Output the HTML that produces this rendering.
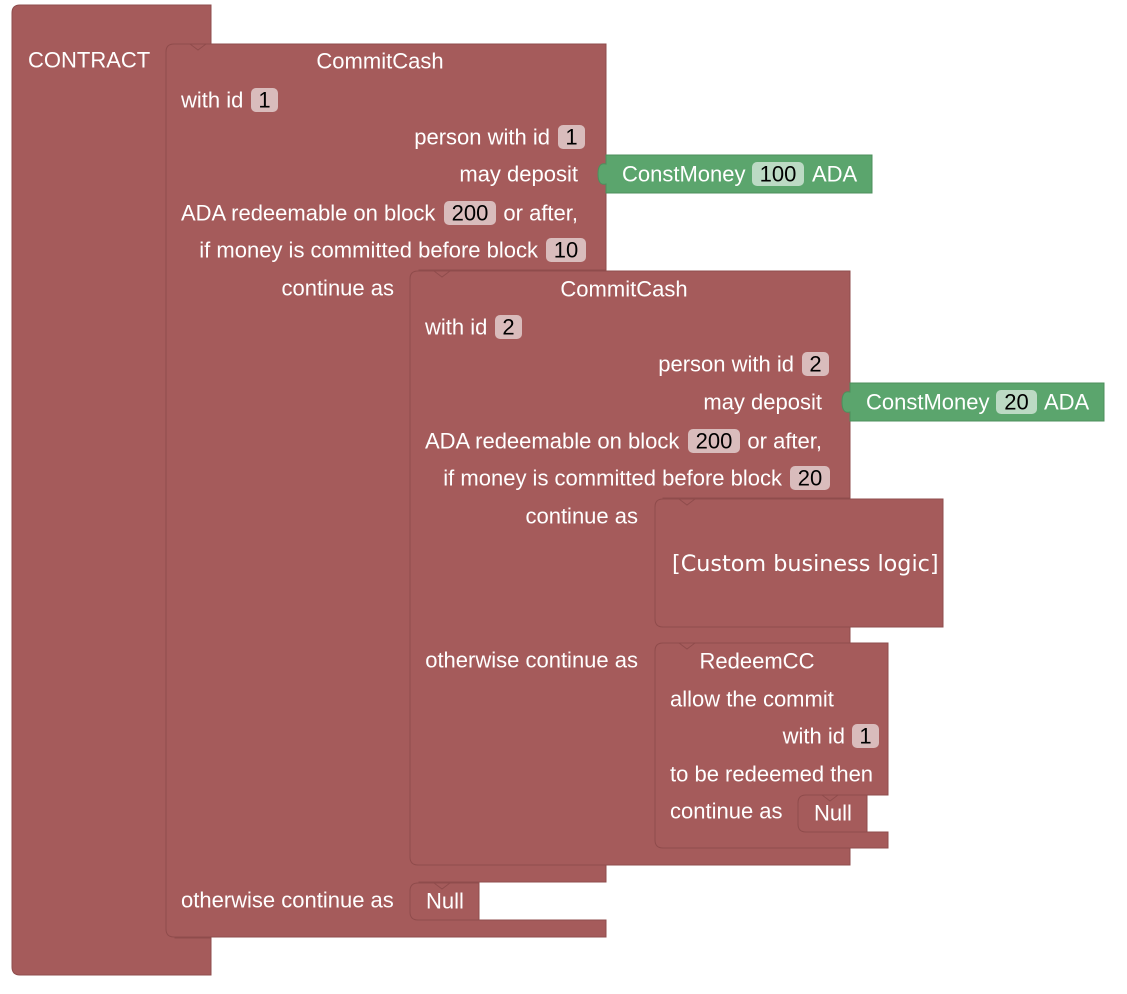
<!DOCTYPE html>
<html><head><meta charset="utf-8"><style>
html,body{margin:0;padding:0;background:#fff;width:1127px;height:994px;overflow:hidden}
svg{display:block}
text{font-family:"Liberation Sans",Arial,sans-serif;font-size:22px;fill:#fff;dominant-baseline:central}
.f{fill:#d9bcbc}
.g{fill:#bcdac4}
.k{fill:#000}
.b{fill:#a55b5b;stroke:#8f4c4c;stroke-width:1}
.gr{fill:#5ba56d;stroke:#4c8f5c;stroke-width:1}
.n{fill:none;stroke:#8f4c4c;stroke-width:1}
</style></head><body>
<svg width="1127" height="994" viewBox="0 0 1127 994">
<path class="b" d="M20,5 H211 V44 H175 V938 H211 V975 H20 Q12,975 12,967 V13 Q12,5 20,5 Z"/>
<path class="b" d="M174,44 H606 V270 H419 V862 H606 V882 H419 V920 H606 V937 H174 Q166,937 166,929 V52 Q166,44 174,44 Z"/>
<path class="n" d="M190,44 L198,50 L206,44"/>
<path class="b" d="M418,271 H850 V498 H663 V627 H850 V643 H663 V848 H850 V865 H418 Q410,865 410,857 V279 Q410,271 418,271 Z"/>
<path class="n" d="M434,271 L442,277 L450,271"/>
<path class="b" d="M663,499 H943 V627 H663 Q655,627 655,619 V507 Q655,499 663,499 Z"/>
<path class="n" d="M679,499 L687,505 L695,499"/>
<path class="b" d="M663,643 H888 V795 H806 V832 H888 V848 H663 Q655,848 655,840 V651 Q655,643 663,643 Z"/>
<path class="n" d="M679,643 L687,649 L695,643"/>
<path class="b" d="M806,795 H867 V832 H806 Q798,832 798,824 V803 Q798,795 806,795 Z"/>
<path class="n" d="M822,795 L830,801 L838,795"/>
<path class="b" d="M418,883 H479 V920 H418 Q410,920 410,912 V891 Q410,883 418,883 Z"/>
<path class="n" d="M434,883 L442,889 L450,883"/>
<path class="gr" d="M606,155 H872 V193 H606 V184 Q598,186 598,174 Q598,162 606,164 Z"/>
<path class="gr" d="M850,383 H1104 V421 H850 V412 Q842,414 842,402 Q842,390 850,392 Z"/>

<text x="28" y="60">CONTRACT</text>
<text x="380" y="61" text-anchor="middle">CommitCash</text>
<text x="181" y="100">with id</text>
<rect class="f" x="251" y="88" width="27" height="24" rx="5"/><text class="k" x="264.5" y="100" text-anchor="middle">1</text>
<text x="550" y="137" text-anchor="end">person with id</text>
<rect class="f" x="558" y="125" width="27" height="24" rx="5"/><text class="k" x="571.5" y="137" text-anchor="middle">1</text>
<text x="578" y="174" text-anchor="end">may deposit</text>
<text x="181" y="213">ADA redeemable on block</text>
<rect class="f" x="444" y="201" width="52" height="24" rx="5"/><text class="k" x="470" y="213" text-anchor="middle">200</text>
<text x="578" y="213" text-anchor="end">or after,</text>
<text x="538" y="250" text-anchor="end">if money is committed before block</text>
<rect class="f" x="546" y="238" width="40" height="24" rx="5"/><text class="k" x="566" y="250" text-anchor="middle">10</text>
<text x="394" y="288" text-anchor="end">continue as</text>

<text x="624" y="289" text-anchor="middle">CommitCash</text>
<text x="425" y="327">with id</text>
<rect class="f" x="495" y="315" width="27" height="24" rx="5"/><text class="k" x="508.5" y="327" text-anchor="middle">2</text>
<text x="794" y="364" text-anchor="end">person with id</text>
<rect class="f" x="802" y="352" width="27" height="24" rx="5"/><text class="k" x="815.5" y="364" text-anchor="middle">2</text>
<text x="822" y="402" text-anchor="end">may deposit</text>
<text x="425" y="441">ADA redeemable on block</text>
<rect class="f" x="688" y="429" width="52" height="24" rx="5"/><text class="k" x="714" y="441" text-anchor="middle">200</text>
<text x="822" y="441" text-anchor="end">or after,</text>
<text x="782" y="478" text-anchor="end">if money is committed before block</text>
<rect class="f" x="790" y="466" width="40" height="24" rx="5"/><text class="k" x="810" y="478" text-anchor="middle">20</text>
<text x="638" y="516" text-anchor="end">continue as</text>
<text x="672" y="564" style="font-family:'DejaVu Sans','Liberation Sans',sans-serif;font-size:22.3px">[Custom business logic]</text>
<text x="638" y="660" text-anchor="end">otherwise continue as</text>
<text x="757" y="661" text-anchor="middle">RedeemCC</text>
<text x="670" y="699">allow the commit</text>
<text x="845" y="736" text-anchor="end">with id</text>
<rect class="f" x="852" y="724" width="27" height="24" rx="5"/><text class="k" x="865.5" y="736" text-anchor="middle">1</text>
<text x="670" y="774">to be redeemed then</text>
<text x="670" y="811">continue as</text>
<text x="833" y="813" text-anchor="middle">Null</text>
<text x="181" y="900">otherwise continue as</text>
<text x="445" y="901" text-anchor="middle">Null</text>

<text x="622" y="174">ConstMoney</text>
<rect class="g" x="752" y="162" width="52" height="24" rx="5"/><text class="k" x="778" y="174" text-anchor="middle">100</text>
<text x="812" y="174">ADA</text>
<text x="866" y="402">ConstMoney</text>
<rect class="g" x="996" y="390" width="41" height="24" rx="5"/><text class="k" x="1016.5" y="402" text-anchor="middle">20</text>
<text x="1044" y="402">ADA</text>
</svg>
</body></html>
